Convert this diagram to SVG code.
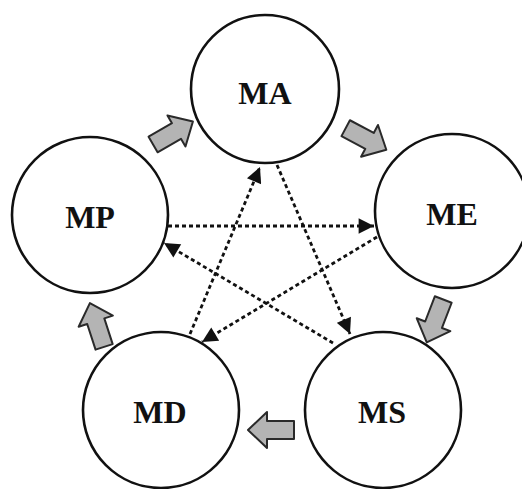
<svg xmlns="http://www.w3.org/2000/svg" width="522" height="489" viewBox="0 0 522 489">
<defs>
<style>
.node circle{fill:#fff;stroke:#111;stroke-width:2.6}
.node text{font-family:"Liberation Serif","Times New Roman",serif;font-weight:bold;font-size:32px;fill:#111;text-anchor:middle}
.dash{fill:none;stroke:#111;stroke-width:2.8;stroke-dasharray:4 3;marker-end:url(#ah)}
.blk{fill:#b4b4b4;stroke:#2a2a2a;stroke-width:2;stroke-linejoin:round}
</style>
<marker id="ah" viewBox="0 0 10 10" refX="10" refY="5" markerWidth="6.5" markerHeight="5.5" markerUnits="strokeWidth" orient="auto">
<path d="M0,0 L10,5 L0,10 Z" fill="#111"/>
</marker>
<path id="blockarrow" d="M-23,-9 L4,-9 L4,-18 L23,0 L4,18 L4,9 L-23,9 Z"/>
</defs>
<rect width="522" height="489" fill="#fff"/>
<g id="node-MA" class="node"><circle cx="265" cy="89" r="74"/><text x="265" y="104">MA</text></g>
<g id="node-MP" class="node"><circle cx="90" cy="215" r="78"/><text x="90" y="228">MP</text></g>
<g id="node-ME" class="node"><circle cx="452" cy="211" r="77"/><text x="452" y="225">ME</text></g>
<g id="node-MD" class="node"><circle cx="161" cy="410" r="78"/><text x="160" y="423">MD</text></g>
<g id="node-MS" class="node"><circle cx="383" cy="410" r="78"/><text x="382" y="423">MS</text></g>
<g id="connectors">
<line class="dash" x1="168" y1="226" x2="374" y2="226"/>
<line class="dash" x1="190" y1="334" x2="260" y2="167"/>
<line class="dash" x1="277" y1="165" x2="350" y2="334"/>
<line class="dash" x1="377" y1="237" x2="202" y2="342"/>
<line class="dash" x1="333" y1="343" x2="164" y2="243"/>
</g>
<g id="cycle-arrows">
<use href="#blockarrow" class="blk" transform="translate(173,133) rotate(-30)"/>
<use href="#blockarrow" class="blk" transform="translate(366,139) rotate(28)"/>
<use href="#blockarrow" class="blk" transform="translate(435,321) rotate(111)"/>
<use href="#blockarrow" class="blk" transform="translate(271,430) rotate(180)"/>
<use href="#blockarrow" class="blk" transform="translate(97,325) rotate(-108)"/>
</g>
</svg>
